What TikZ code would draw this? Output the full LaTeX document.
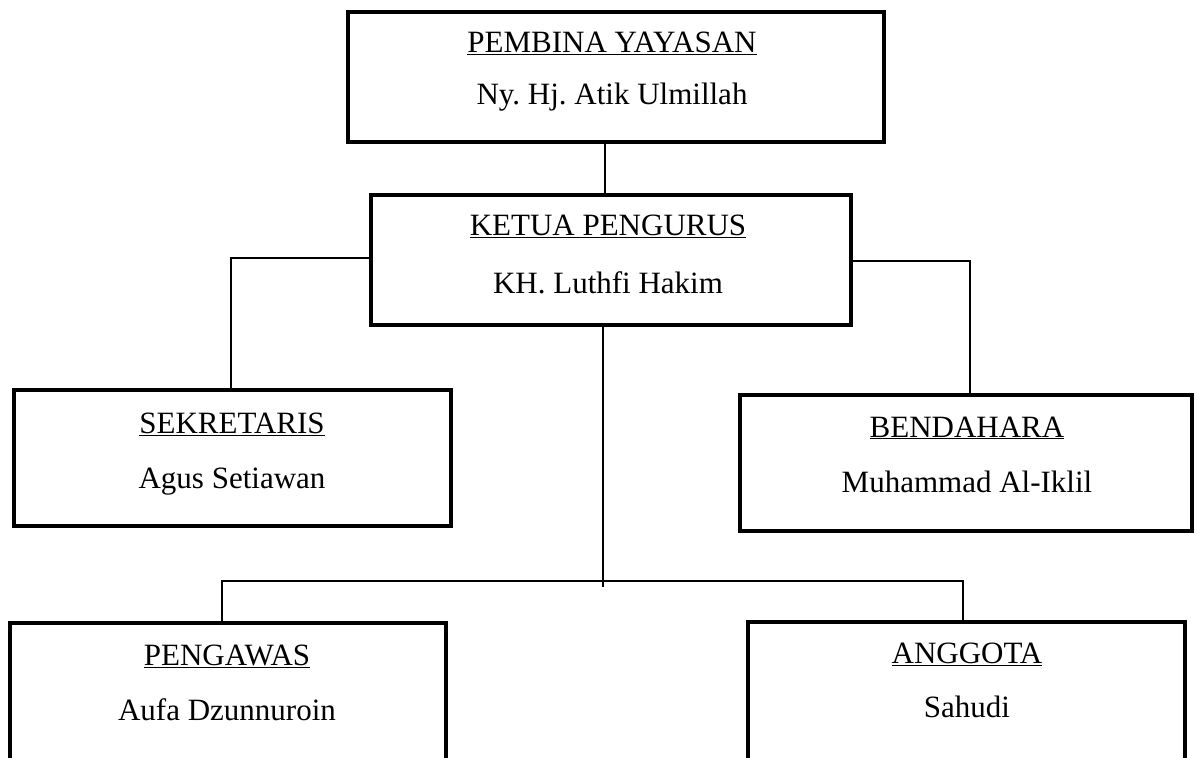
\documentclass[tikz,border=0pt]{standalone}
\usepackage{fontspec}
\setmainfont{Liberation Serif}
\frenchspacing
\begin{document}
\begin{tikzpicture}[x={(1pt,0)},y={(0,-1pt)},
  orgbox/.style={draw=black,line width=4pt,rectangle,inner sep=0pt},
  conn/.style={draw=black,line width=1.3pt},
  txt/.style={anchor=base,inner sep=0pt,font=\fontsize{31}{37}\selectfont}]
\useasboundingbox (0,0) rectangle (1200,758);
\clip (0,0) rectangle (1200,758);
% boxes
\node[orgbox,minimum width=536pt,minimum height=130pt] (pembina) at (616,77) {};
\node[orgbox,minimum width=480pt,minimum height=130pt] (ketua) at (611,260) {};
\node[orgbox,minimum width=437pt,minimum height=136pt] (sek) at (232.5,458) {};
\node[orgbox,minimum width=452pt,minimum height=136pt] (bend) at (966,463) {};
\node[orgbox,minimum width=436pt,minimum height=160pt] (peng) at (228,703) {};
\node[orgbox,minimum width=437pt,minimum height=160pt] (ang) at (966.5,702) {};
% texts
\node[txt] (t1) at (612,52) {\underline{PEMBINA YAYASAN}};
\node[txt] (n1) at (612,104) {Ny. Hj. Atik Ulmillah};
\node[txt] (t2) at (608,235) {\underline{KETUA PENGURUS}};
\node[txt] (n2) at (608,293) {KH. Luthfi Hakim};
\node[txt] (t3) at (232,433) {\underline{SEKRETARIS}};
\node[txt] (n3) at (232,488) {Agus Setiawan};
\node[txt] (t4) at (967,437) {\underline{BENDAHARA}};
\node[txt] (n4) at (967,492) {Muhammad Al-Iklil};
\node[txt] (t5) at (227,665) {\underline{PENGAWAS}};
\node[txt] (n5) at (227,720) {Aufa Dzunnuroin};
\node[txt] (t6) at (967,663) {\underline{ANGGOTA}};
\node[txt] (n6) at (967,717) {Sahudi};
% connector points
\coordinate (xa) at (605,0);
\coordinate (xl) at (231,258);
\coordinate (xr) at (970,261);
\coordinate (xc) at (603,587);
\coordinate (xpl) at (222,581);
\coordinate (xpr) at (963,581);
% connectors
\draw[conn] (pembina.south -| xa) -- (ketua.north -| xa);
\draw[conn] (ketua.west |- xl) -- (xl) -- (sek.north -| xl);
\draw[conn] (ketua.east |- xr) -- (xr) -- (bend.north -| xr);
\draw[conn] (ketua.south -| xc) -- (xc);
\draw[conn] (peng.north -| xpl) -- (xpl) -- (xpr) -- (ang.north -| xpr);
\end{tikzpicture}
\end{document}
